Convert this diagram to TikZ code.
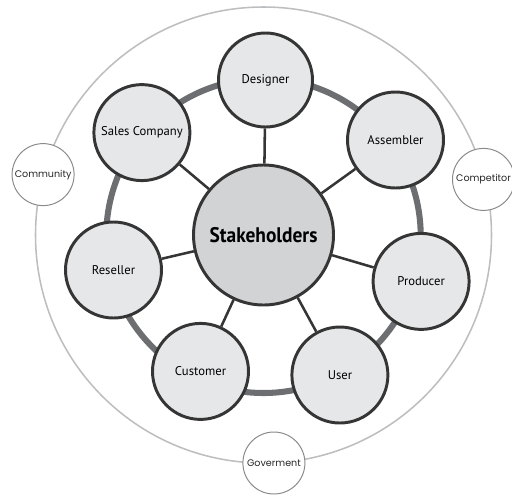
\documentclass[tikz,border=0pt]{standalone}
\usepackage{fontspec}
\setmainfont{PT Sans}
\newfontfamily\hubfont[FakeStretch=0.92]{PT Sans}
\newfontfamily\ringfont{Poppins}
\usepackage{xcolor}
\usetikzlibrary{backgrounds}

\definecolor{edgegray}{HTML}{353535}
\definecolor{actorfill}{HTML}{E6E7E8}
\definecolor{hubfill}{HTML}{D1D3D4}
\definecolor{ringgray}{HTML}{6D6E71}
\definecolor{outergray}{HTML}{BCBEC0}
\definecolor{circgray}{HTML}{8A8A8A}

\begin{document}
\begin{tikzpicture}[
  hub/.style={circle,draw=edgegray,line width=2.1pt,fill=hubfill,minimum size=3.5cm,
    inner sep=0pt,font=\hubfont\bfseries\fontsize{15}{18}\selectfont},
  actor/.style={circle,draw=edgegray,line width=2.1pt,fill=actorfill,minimum size=2.4cm,
    inner sep=0pt,font=\fontsize{9}{11}\selectfont},
  extern/.style={circle,draw=circgray,line width=0.7pt,fill=white,minimum size=1.55cm,
    inner sep=0pt,text=black!85,font=\ringfont\fontsize{6.8}{9}\selectfont},
  spoke/.style={edgegray,line width=1.8pt},
  ring/.style={ringgray,line width=4.3pt},
  outline/.style={outergray,line width=1.1pt}
]
\useasboundingbox (-6.5875,-6.5) rectangle (6.2125,5.875);

% centre and inner ring of actors
\node[hub] (S) at (0,0) {Stakeholders};

\node[actor,minimum size=2.35cm] (D) at ( 0.05, 3.875) {Designer};
\node[actor] (A)  at ( 3.30, 2.375) {Assembler};
\node[actor] (P)  at ( 3.94,-1.16 ) {Producer};
\node[actor] (U)  at ( 1.91,-3.50 ) {User};
\node[actor] (Cu) at (-1.575,-3.41) {Customer};
\node[actor] (R)  at (-3.75,-0.875) {Reseller};
\node[actor] (SC) at (-3.04, 2.56 ) {Sales Company};

% outer circle of external parties
\node[extern] (Co) at (-5.51, 1.51) {Community};
\node[extern] (Cp) at ( 5.50, 1.39) {Competitor};
\node[extern] (G)  at ( 0.26,-5.70) {Goverment};

\begin{scope}[on background layer]
  \draw[outline] (0,0) circle (5.7);
  \draw[ring] (0,-0.02) circle (3.93);
  \foreach \n in {D,A,P,U,Cu,R,SC}
    \draw[spoke] (S) -- (\n);
\end{scope}
\end{tikzpicture}
\end{document}
